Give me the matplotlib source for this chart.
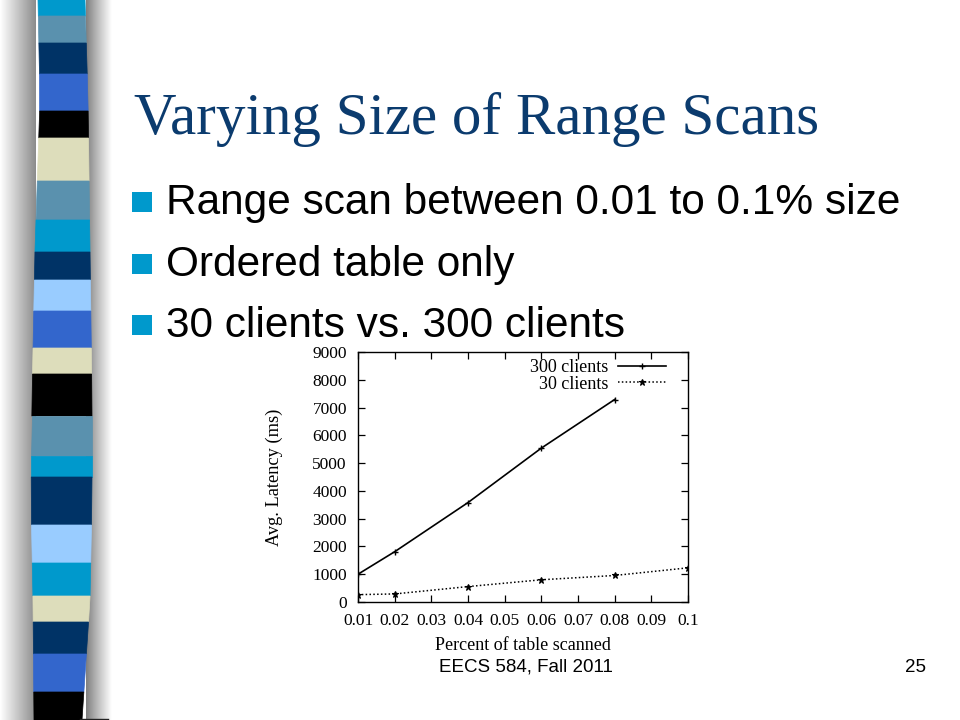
import numpy as np
import matplotlib
matplotlib.use("Agg")
import matplotlib.pyplot as plt
from matplotlib.patches import Polygon, Rectangle

# ---------------- data ----------------
title = "Varying Size of Range Scans"
bullets = ["Range scan between 0.01 to 0.1% size",
           "Ordered table only",
           "30 clients vs. 300 clients"]
footer_left = "EECS 584, Fall 2011"
footer_page = "25"

x300 = [0.01, 0.02, 0.04, 0.06, 0.08]
y300 = [1000, 1810, 3580, 5540, 7290]
x30 = [0.01, 0.02, 0.04, 0.06, 0.08, 0.10]
y30 = [265, 290, 555, 800, 955, 1230]
xticks = [0.01, 0.02, 0.03, 0.04, 0.05, 0.06, 0.07, 0.08, 0.09, 0.1]
xtick_labels = ["0.01", "0.02", "0.03", "0.04", "0.05", "0.06", "0.07", "0.08", "0.09", "0.1"]
yticks = [0, 1000, 2000, 3000, 4000, 5000, 6000, 7000, 8000, 9000]

W, H = 960, 720
fig = plt.figure(figsize=(W / 100, H / 100), dpi=100)
fig.patch.set_facecolor("white")

# background axes in pixel coordinates
bg = fig.add_axes([0, 0, 1, 1])
bg.axis("off")

# shadows around the decorative stripe
grad_l = np.linspace(1.0, 0.55, 64)
img_l = np.dstack([grad_l, grad_l, grad_l]).repeat(2, axis=0)
bg.imshow(img_l, extent=(0, 36, H, 0), aspect="auto", zorder=0, interpolation="bilinear")
grad_r = np.linspace(0.42, 1.0, 64) ** 0.8
img_r = np.dstack([grad_r, grad_r, grad_r]).repeat(2, axis=0)
bg.imshow(img_r, extent=(86, 112, H, 0), aspect="auto", zorder=0, interpolation="bilinear")
bg.set_xlim(0, W)
bg.set_ylim(H, 0)

# stripe edges
ey = [0, 100, 250, 400, 500, 600, 720]
el = [38, 40, 35, 32, 31, 33, 34]
er = [85, 88, 90, 92, 92, 90, 82]
def edges(y):
    return np.interp(y, ey, el), np.interp(y, ey, er)

cyan = "#0099CC"; steel = "#5A91AE"; navy = "#003366"; royal = "#3366CC"
black = "#000000"; beige = "#DDDDBB"; light = "#99CCFF"
bands = [(0, 16, cyan), (16, 43, steel), (43, 74, navy), (74, 111, royal),
         (111, 138, black), (138, 181, beige), (181, 220, steel), (220, 252, cyan),
         (252, 280, navy), (280, 311, light), (311, 348, royal), (348, 374, beige),
         (374, 416, black), (416, 456, steel), (456, 477, cyan), (477, 525, navy),
         (525, 563, light), (563, 596, cyan), (596, 622, beige), (622, 654, navy),
         (654, 692, royal), (692, 720, black)]
for y0, y1, c in bands:
    l0, r0 = edges(y0)
    l1, r1 = edges(y1)
    bg.add_patch(Polygon([(l0, y0), (r0, y0), (r1, y1), (l1, y1)], closed=True,
                         facecolor=c, edgecolor=c, lw=0.5, zorder=2))
bg.plot([80, 108], [718.5, 718.5], color="#222222", lw=1, zorder=3)

# title
bg.text(134, 134, title, fontsize=42.5, family="Liberation Serif", color="#0B3B6E",
        ha="left", va="baseline", zorder=3)

# bullets
bl = [214, 276, 337]
for yb, txt in zip(bl, bullets):
    bg.add_patch(Rectangle((132, yb - 22), 20, 20, facecolor="#0099CC", edgecolor="none", zorder=3))
    bg.text(166, yb, txt, fontsize=30.5, family="Liberation Sans", color="black",
            ha="left", va="baseline", zorder=3)

# footer
bg.text(526, 672, footer_left, fontsize=13.5, family="Liberation Sans", color="black",
        ha="center", va="baseline")
bg.text(915, 672, footer_page, fontsize=13.5, family="Liberation Sans", color="black",
        ha="center", va="baseline")

# ---------------- chart ----------------
ax = fig.add_axes([358 / W, 1 - 602 / H, (688 - 358) / W, (602 - 352) / H])
ax.set_facecolor("white")
ax.plot(x300, y300, color="black", lw=1.2, ls="-", marker="+", ms=5, mew=1,
        label="300 clients")
ax.plot(x30, y30, color="black", lw=1.1, ls=(0, (1, 1.5)), marker="*", ms=5, mew=0.8,
        label="30 clients")
ax.set_xlim(0.01, 0.1)
ax.set_ylim(0, 9000)
ax.set_xticks(xticks)
ax.set_xticklabels(xtick_labels)
ax.set_yticks(yticks)
ax.tick_params(direction="in", top=True, right=True, length=5, width=0.9,
               labelsize=12.5)
ax.tick_params(axis="x", pad=8)
ax.tick_params(axis="y", pad=8)
for lab in ax.get_xticklabels() + ax.get_yticklabels():
    lab.set_family("Liberation Serif")
for s in ax.spines.values():
    s.set_linewidth(1)
ax.set_ylabel("Avg. Latency (ms)", family="Liberation Serif", fontsize=13.2)
ax.set_xlabel("Percent of table scanned", family="Liberation Serif", fontsize=13,
              va="top")
ax.yaxis.set_label_coords(-0.228, 0.5)
ax.xaxis.set_label_coords(0.5, -0.142)
leg = ax.legend(loc="upper right", frameon=False, markerfirst=False,
                bbox_to_anchor=(0.933, 0.97),
                prop={"family": "Liberation Serif", "size": 13},
                handlelength=2.66, borderpad=0, borderaxespad=0,
                labelspacing=-0.05, handletextpad=0.55)

fig.savefig("out.png", dpi=100, facecolor="white")
